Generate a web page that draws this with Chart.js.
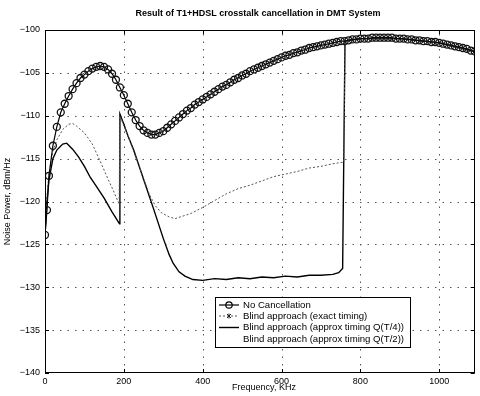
<!DOCTYPE html>
<html>
<head>
<meta charset="utf-8">
<script src="https://cdn.jsdelivr.net/npm/chart.js@4/dist/chart.umd.min.js"></script>
<style>
html,body{margin:0;padding:0;background:#fff;}
#wrap{width:480px;height:396px;position:relative;}
</style>
</head>
<body>
<div id="wrap"><canvas id="c"></canvas></div>
<script>
// ---- text ----
const chartTitle = "Result of T1+HDSL crosstalk cancellation in DMT System";
const xTitle = "Frequency, KHz";
const yTitle = "Noise Power, dBm/Hz";
const seriesLabels = [
  "No Cancellation",
  "Blind approach (exact timing)",
  "Blind approach (approx timing Q(T/4))",
  "Blind approach (approx timing Q(T/2))"
];
const xTickValues = [0, 200, 400, 600, 800, 1000];
const yTickValues = [-140, -135, -130, -125, -120, -115, -110, -105, -100];

// ---- No Cancellation ----
const freqNoCancel = [0,5,10,20,30,40,50,60,70,80,90,100,110,120,130,140,150,160,170,180,
  190,200,210,220,230,240,250,260,270,280,290,300,310,320,330,340,350,360,370,380,
  390,400,410,420,430,440,450,460,470,480,490,500,510,520,530,540,550,560,570,580,
  590,600,610,620,630,640,650,660,670,680,690,700,710,720,730,740,750,760,770,780,
  790,800,810,820,830,840,850,860,870,880,890,900,910,920,930,940,950,960,970,980,
  990,1000,1010,1020,1030,1040,1050,1060,1070,1080,1090];
const noCancel = [-123.9,-121.0,-117.0,-113.5,-111.3,-109.6,-108.6,-107.7,-106.9,-106.2,
  -105.6,-105.2,-104.8,-104.5,-104.3,-104.2,-104.3,-104.6,-105.1,-105.8,
  -106.7,-107.6,-108.6,-109.6,-110.5,-111.2,-111.7,-112.0,-112.2,-112.2,
  -112.0,-111.8,-111.4,-111.0,-110.6,-110.2,-109.8,-109.4,-109.1,-108.7,
  -108.4,-108.1,-107.8,-107.5,-107.2,-106.9,-106.6,-106.4,-106.1,-105.8,
  -105.6,-105.3,-105.1,-104.8,-104.6,-104.4,-104.2,-104.0,-103.8,-103.6,
  -103.4,-103.2,-103.0,-102.9,-102.7,-102.6,-102.4,-102.3,-102.1,-102.0,
  -101.9,-101.8,-101.7,-101.6,-101.5,-101.4,-101.3,-101.3,-101.2,-101.1,
  -101.1,-101.0,-101.0,-101.0,-100.9,-100.9,-100.9,-100.9,-100.9,-100.9,
  -101.0,-101.0,-101.0,-101.1,-101.1,-101.2,-101.2,-101.3,-101.3,-101.4,
  -101.4,-101.5,-101.6,-101.7,-101.8,-101.9,-102.0,-102.1,-102.2,-102.4,-102.5];

// ---- Blind approach (exact timing) ----
const freqExact = [0,5,10,20,30,45,60,70,80,100,120,140,160,175,188,190,210,230,250,265,
  280,295,315,330,350,370,400,430,460,490,520,550,580,610,640,670,700,730,758,761,
  800,900,1000,1090];
const exactTiming = [-123.9,-119.5,-116.8,-114.2,-112.8,-111.6,-111.0,-110.9,-111.2,-112.0,
  -113.3,-115.3,-117.4,-118.9,-120.3,-110.0,-112.3,-114.8,-117.3,-119.2,
  -120.5,-121.3,-121.8,-122.0,-121.7,-121.4,-120.7,-119.9,-119.1,-118.5,
  -118.1,-117.6,-117.1,-116.8,-116.5,-116.1,-115.9,-115.6,-115.4,-101.3,
  -101.0,-101.0,-101.5,-102.5];

// ---- Blind approach (approx timing Q(T/4)) ----
const freqT4 = [0,5,10,20,30,45,55,70,85,100,115,130,150,170,189,190,200,210,225,250,
  275,300,315,325,340,355,375,400,430,460,490,520,550,580,610,640,670,700,730,745,
  755,761,800,900,1000,1090];
const approxT4 = [-123.9,-120.0,-117.5,-115.0,-114.0,-113.3,-113.2,-113.9,-114.8,-115.9,
  -117.2,-118.2,-119.6,-121.2,-122.6,-109.8,-111.0,-112.3,-114.0,-117.4,
  -120.8,-124.3,-126.2,-127.2,-128.2,-128.7,-129.1,-129.2,-129.0,-129.1,
  -128.9,-129.0,-128.8,-128.9,-128.7,-128.8,-128.6,-128.6,-128.5,-128.3,
  -127.8,-101.3,-101.0,-101.0,-101.5,-102.5];

// ---- Blind approach (approx timing Q(T/2)) : not visible in the print ----
const freqT2 = [];
const approxT2 = [];

const toXY = (xs, ys) => xs.map((x, i) => ({x: x, y: ys[i]}));
const FONT = "'Liberation Sans', Arial, Helvetica, sans-serif";

const framePlugin = {
  id: 'frame',
  beforeDatasetsDraw(chart) {
    const {ctx, chartArea: a, scales: {x, y}} = chart;
    ctx.save();
    ctx.strokeStyle = '#555';
    ctx.lineWidth = 1;
    ctx.setLineDash([1.5, 6]);
    ctx.beginPath();
    xTickValues.forEach(v => {
      const px = Math.round(x.getPixelForValue(v)) + 0.5;
      if (px < a.left + 2) return;
      ctx.moveTo(px, a.bottom); ctx.lineTo(px, a.top);
    });
    yTickValues.forEach(v => {
      const py = Math.round(y.getPixelForValue(v)) + 0.5;
      if (py < a.top + 2 || py > a.bottom - 2) return;
      ctx.moveTo(a.left, py); ctx.lineTo(a.right, py);
    });
    ctx.stroke();
    ctx.restore();
  },
  afterDatasetsDraw(chart) {
    const {ctx, chartArea: a, scales: {x, y}} = chart;
    ctx.save();
    ctx.strokeStyle = '#000';
    ctx.lineWidth = 1;
    ctx.strokeRect(Math.round(a.left) + 0.5, Math.round(a.top) + 0.5,
                   Math.round(a.width) - 1, Math.round(a.height) - 1);
    const tl = 4;
    ctx.beginPath();
    xTickValues.forEach(v => {
      const px = Math.round(x.getPixelForValue(v)) + 0.5;
      ctx.moveTo(px, a.bottom); ctx.lineTo(px, a.bottom - tl);
      ctx.moveTo(px, a.top); ctx.lineTo(px, a.top + tl);
    });
    yTickValues.forEach(v => {
      const py = Math.round(y.getPixelForValue(v)) + 0.5;
      ctx.moveTo(a.left, py); ctx.lineTo(a.left + tl, py);
      ctx.moveTo(a.right, py); ctx.lineTo(a.right - tl, py);
    });
    ctx.stroke();
    ctx.restore();
  },
  afterDraw(chart) {
    const {ctx, chartArea: a} = chart;
    ctx.save();
    ctx.fillStyle = '#000';
    ctx.textAlign = 'center';
    ctx.textBaseline = 'middle';
    // title
    ctx.font = "bold 9px " + FONT;
    ctx.fillText(chartTitle, 258, 14);
    // x title
    ctx.font = "9px " + FONT;
    ctx.fillText(xTitle, 264, 388);
    // y title
    ctx.save();
    ctx.translate(8, (a.top + a.bottom) / 2);
    ctx.rotate(-Math.PI / 2);
    ctx.fillText(yTitle, 0, 0);
    ctx.restore();

    // legend
    const bx = 215, by = 297, bw = 195, bh = 50;
    ctx.fillStyle = '#fff';
    ctx.fillRect(bx, by, bw, bh);
    ctx.strokeStyle = '#000';
    ctx.lineWidth = 1;
    ctx.strokeRect(bx + 0.5, by + 0.5, bw, bh);
    const rows = [305, 316, 327.5, 339];
    chart.data.datasets.forEach((ds, i) => {
      const ry = rows[i];
      ctx.save();
      ctx.strokeStyle = ds.borderColor;
      ctx.lineWidth = ds.borderWidth;
      ctx.setLineDash(ds.borderDash || []);
      ctx.beginPath();
      ctx.moveTo(219, ry); ctx.lineTo(239, ry);
      ctx.stroke();
      ctx.setLineDash([]);
      if (i === 0) {
        ctx.beginPath();
        ctx.arc(229, ry, 3.2, 0, Math.PI * 2);
        ctx.strokeStyle = '#000';
        ctx.lineWidth = 1.2;
        ctx.stroke();
      } else if (i === 1) {
        ctx.strokeStyle = '#222';
        ctx.lineWidth = 1;
        ctx.beginPath();
        ctx.moveTo(227, ry - 2); ctx.lineTo(231, ry + 2);
        ctx.moveTo(231, ry - 2); ctx.lineTo(227, ry + 2);
        ctx.moveTo(229, ry - 2.5); ctx.lineTo(229, ry + 2.5);
        ctx.stroke();
      }
      ctx.restore();
      ctx.fillStyle = '#000';
      ctx.font = "9.6px " + FONT;
      ctx.textAlign = 'left';
      ctx.textBaseline = 'middle';
      ctx.fillText(ds.label, 243, ry);
    });
    ctx.restore();
  }
};

new Chart(document.getElementById('c'), {
  type: 'line',
  data: {
    datasets: [
      {
        label: seriesLabels[0],
        data: toXY(freqNoCancel, noCancel),
        borderColor: '#000',
        borderWidth: 1.2,
        pointStyle: 'circle',
        pointRadius: 3.5,
        pointBorderWidth: 1.3,
        pointBorderColor: '#111',
        pointBackgroundColor: 'rgba(0,0,0,0)',
        fill: false
      },
      {
        label: seriesLabels[1],
        data: toXY(freqExact, exactTiming),
        borderColor: '#555',
        borderWidth: 1,
        borderDash: [2, 2],
        pointRadius: 0,
        fill: false
      },
      {
        label: seriesLabels[2],
        data: toXY(freqT4, approxT4),
        borderColor: '#000',
        borderWidth: 1.4,
        pointRadius: 0,
        fill: false
      },
      {
        label: seriesLabels[3],
        data: toXY(freqT2, approxT2),
        borderColor: 'rgba(0,0,0,0)',
        borderWidth: 1,
        pointRadius: 0,
        fill: false
      }
    ]
  },
  options: {
    responsive: true,
    maintainAspectRatio: false,
    animation: false,
    events: [],
    layout: {padding: {left: 0, top: 30, right: 3, bottom: 0}},
    plugins: {legend: {display: false}, title: {display: false}, tooltip: {enabled: false}},
    scales: {
      x: {
        type: 'linear',
        min: 0, max: 1090,
        afterFit(s) { s.height = 23; },
        afterBuildTicks(s) { s.ticks = xTickValues.map(v => ({value: v})); },
        ticks: {
          padding: 3,
          color: '#000',
          font: {family: FONT, size: 9},
          maxRotation: 0,
          autoSkip: false,
          callback: v => String(v)
        },
        grid: {display: false, drawTicks: false},
        border: {display: false}
      },
      y: {
        type: 'linear',
        min: -140, max: -100,
        afterFit(s) { s.width = 45; },
        afterBuildTicks(s) { s.ticks = yTickValues.map(v => ({value: v})); },
        ticks: {
          padding: 5,
          color: '#000',
          font: {family: FONT, size: 9},
          autoSkip: false,
          callback: v => String(v).replace('-', '\u2212')
        },
        grid: {display: false, drawTicks: false},
        border: {display: false}
      }
    }
  },
  plugins: [framePlugin]
});
</script>
</body>
</html>
